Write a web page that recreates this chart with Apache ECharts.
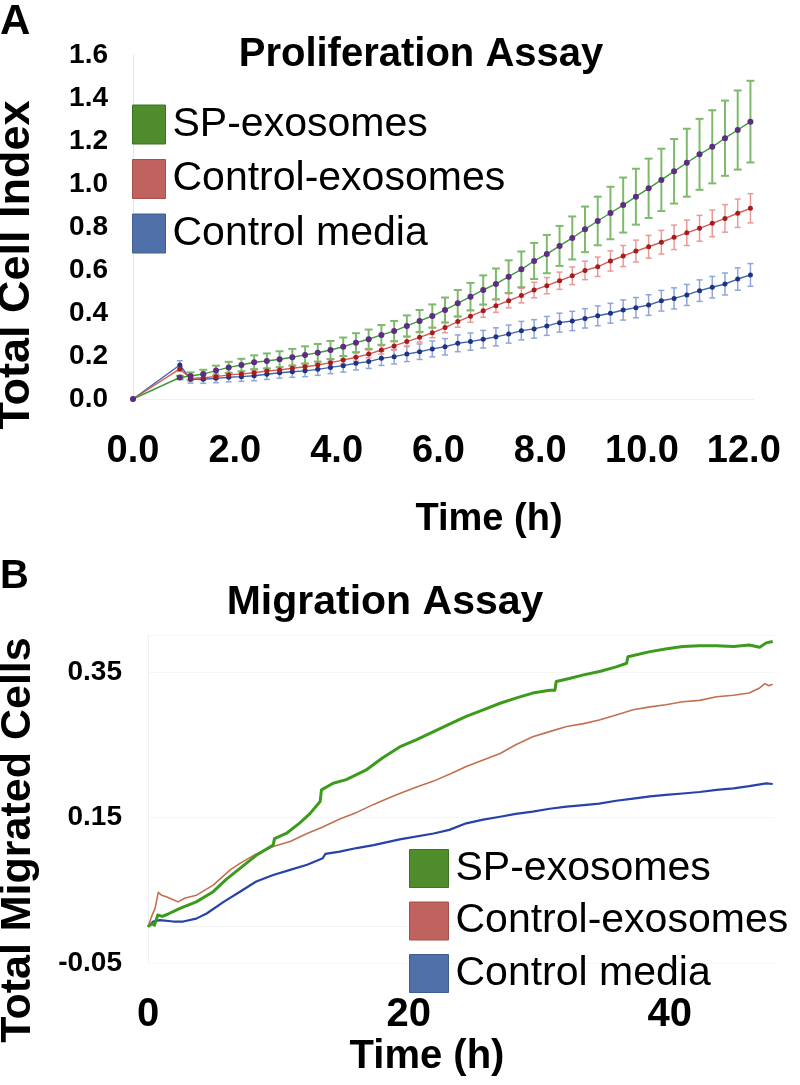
<!DOCTYPE html>
<html>
<head>
<meta charset="utf-8">
<script src="https://cdn.jsdelivr.net/npm/echarts@6/dist/echarts.min.js"></script>
<style>
html,body{margin:0;padding:0;background:#fff}
#c{width:800px;height:1085px}
</style>
</head>
<body>
<div id="c"></div>
<script>
// ---------- Panel A: Proliferation assay (Total Cell Index) ----------
const seriesNames = ['SP-exosomes', 'Control-exosomes', 'Control media'];
const profTimes = [0, 0.92, 1.13, 1.38, 1.63, 1.88, 2.13, 2.38, 2.63, 2.88, 3.13, 3.38, 3.63, 3.88, 4.13, 4.38, 4.63, 4.88, 5.13, 5.38, 5.63, 5.88, 6.13, 6.38, 6.63, 6.88, 7.13, 7.38, 7.63, 7.88, 8.13, 8.38, 8.63, 8.88, 9.13, 9.38, 9.63, 9.88, 10.13, 10.38, 10.63, 10.88, 11.13, 11.38, 11.63, 11.88, 12.13];
const profSP = [0, 0.100, 0.107, 0.116, 0.132, 0.147, 0.158, 0.171, 0.177, 0.185, 0.194, 0.205, 0.215, 0.228, 0.243, 0.262, 0.278, 0.298, 0.316, 0.340, 0.363, 0.386, 0.414, 0.445, 0.476, 0.507, 0.535, 0.569, 0.603, 0.642, 0.674, 0.712, 0.749, 0.789, 0.828, 0.865, 0.902, 0.941, 0.980, 1.019, 1.059, 1.099, 1.138, 1.173, 1.213, 1.251, 1.290];
const profSPErr = [0, 0.008, 0.017, 0.020, 0.023, 0.026, 0.029, 0.032, 0.035, 0.037, 0.039, 0.040, 0.041, 0.042, 0.043, 0.044, 0.045, 0.046, 0.047, 0.049, 0.051, 0.054, 0.058, 0.062, 0.064, 0.068, 0.072, 0.076, 0.083, 0.084, 0.089, 0.093, 0.100, 0.106, 0.113, 0.122, 0.128, 0.130, 0.138, 0.145, 0.150, 0.158, 0.165, 0.170, 0.175, 0.184, 0.190];
const profCE = [0, 0.140, 0.096, 0.099, 0.104, 0.112, 0.116, 0.122, 0.130, 0.135, 0.143, 0.150, 0.158, 0.169, 0.181, 0.194, 0.209, 0.228, 0.247, 0.267, 0.287, 0.308, 0.332, 0.360, 0.385, 0.410, 0.434, 0.457, 0.481, 0.507, 0.527, 0.550, 0.573, 0.598, 0.615, 0.642, 0.665, 0.688, 0.708, 0.729, 0.752, 0.773, 0.794, 0.817, 0.840, 0.864, 0.887];
const profCEErr = [0, 0.012, 0.012, 0.012, 0.012, 0.013, 0.013, 0.013, 0.014, 0.014, 0.015, 0.015, 0.016, 0.016, 0.017, 0.018, 0.018, 0.019, 0.020, 0.021, 0.022, 0.023, 0.024, 0.026, 0.028, 0.030, 0.031, 0.033, 0.034, 0.036, 0.038, 0.040, 0.041, 0.043, 0.045, 0.047, 0.049, 0.051, 0.053, 0.055, 0.057, 0.059, 0.060, 0.062, 0.064, 0.066, 0.068];
const profCM = [0, 0.158, 0.092, 0.092, 0.096, 0.101, 0.104, 0.108, 0.115, 0.122, 0.127, 0.131, 0.138, 0.147, 0.155, 0.166, 0.174, 0.189, 0.197, 0.209, 0.220, 0.233, 0.243, 0.259, 0.267, 0.278, 0.289, 0.302, 0.318, 0.326, 0.340, 0.355, 0.363, 0.375, 0.387, 0.399, 0.414, 0.425, 0.437, 0.457, 0.468, 0.484, 0.504, 0.520, 0.535, 0.558, 0.577];
const profCMErr = [0, 0.020, 0.018, 0.019, 0.020, 0.021, 0.022, 0.023, 0.024, 0.025, 0.026, 0.027, 0.028, 0.029, 0.030, 0.031, 0.032, 0.033, 0.034, 0.035, 0.036, 0.037, 0.038, 0.039, 0.040, 0.041, 0.042, 0.042, 0.043, 0.043, 0.044, 0.044, 0.045, 0.045, 0.046, 0.046, 0.047, 0.047, 0.048, 0.048, 0.049, 0.049, 0.050, 0.050, 0.051, 0.052, 0.053];
const profXTicks = [0, 2, 4, 6, 8, 10, 12];
const profYTicks = [0, 0.2, 0.4, 0.6, 0.8, 1.0, 1.2, 1.4, 1.6];

// ---------- Panel B: Migration assay (Total Migrated Cells) ----------
const migTimeSP = [0, 0.3, 0.5, 0.75, 1.1, 1.5, 2.45, 3.7, 5.0, 6.0, 7.05, 8.3, 9.6, 9.7, 10.6, 11.6, 12.4, 13.2, 13.3, 14.2, 15.2, 16.7, 18.0, 19.3, 20.6, 21.9, 23.2, 24.4, 25.7, 27.0, 28.2, 29.5, 30.8, 31.2, 31.3, 32.3, 33.4, 34.7, 35.9, 36.7, 36.8, 38.5, 39.8, 41.0, 42.3, 43.6, 44.9, 46.1, 46.9, 47.4, 47.9];
const migSP = [0, 0.004, 0.002, 0.016, 0.014, 0.017, 0.025, 0.034, 0.048, 0.065, 0.080, 0.098, 0.112, 0.121, 0.128, 0.142, 0.155, 0.172, 0.188, 0.197, 0.202, 0.215, 0.232, 0.247, 0.257, 0.268, 0.279, 0.289, 0.298, 0.307, 0.314, 0.321, 0.325, 0.325, 0.337, 0.341, 0.346, 0.351, 0.357, 0.362, 0.371, 0.378, 0.382, 0.385, 0.386, 0.386, 0.385, 0.387, 0.384, 0.390, 0.392];
const migTimeCE = [0, 0.28, 0.54, 0.79, 1.05, 1.4, 1.94, 2.3, 2.8, 3.7, 5.0, 6.3, 7.05, 8.3, 9.6, 10.9, 12.2, 13.4, 14.7, 16.0, 17.3, 18.5, 19.3, 20.6, 21.9, 23.2, 24.4, 25.7, 27.0, 28.2, 29.5, 30.8, 32.1, 33.4, 34.6, 35.9, 37.2, 38.5, 39.7, 41.0, 42.3, 43.6, 44.9, 46.1, 46.9, 47.3, 47.6, 47.9];
const migCE = [0, 0.014, 0.025, 0.047, 0.043, 0.041, 0.037, 0.034, 0.039, 0.043, 0.057, 0.078, 0.087, 0.100, 0.110, 0.117, 0.128, 0.137, 0.148, 0.157, 0.168, 0.177, 0.183, 0.192, 0.200, 0.210, 0.220, 0.229, 0.238, 0.250, 0.261, 0.268, 0.275, 0.279, 0.284, 0.291, 0.298, 0.302, 0.305, 0.309, 0.311, 0.316, 0.318, 0.321, 0.328, 0.334, 0.331, 0.333];
const migTimeCM = [0, 0.4, 0.92, 1.94, 2.7, 3.7, 4.5, 5.8, 7.05, 8.3, 9.6, 10.9, 12.2, 13.4, 13.6, 14.7, 16.0, 17.3, 19.3, 21.9, 23.1, 24.4, 25.7, 27.0, 28.2, 29.5, 30.8, 32.1, 33.4, 34.6, 35.9, 37.2, 38.5, 39.7, 41.0, 42.3, 43.6, 44.9, 46.1, 47.4, 47.9];
const migCM = [0, 0.007, 0.009, 0.007, 0.007, 0.011, 0.018, 0.034, 0.048, 0.062, 0.071, 0.078, 0.085, 0.094, 0.100, 0.103, 0.108, 0.112, 0.120, 0.128, 0.133, 0.142, 0.147, 0.151, 0.155, 0.158, 0.162, 0.165, 0.167, 0.169, 0.173, 0.176, 0.179, 0.181, 0.183, 0.185, 0.188, 0.190, 0.193, 0.197, 0.196];
const migXTicks = [0, 20, 40];
const migYTicks = [-0.05, 0.15, 0.35];

// ---------- styling ----------
const FONT = '"Liberation Sans", Arial, Helvetica, sans-serif';
const lineCol = ['#3f9a37', '#d65a55', '#3d63b0'];
const dotCol = ['#5c2d82', '#a51d1d', '#1f3284'];
const errCol = ['#7fba6c', '#e99a98', '#8ea6d8'];
const legendCol = ['#4e8c2c', '#c0625e', '#4f70a8'];
const legendBorder = ['#3f7322', '#a5504c', '#3f5d91'];
const migCol = ['#3c9a1c', '#c27150', '#2742a8'];

const pairs = (xs, ys) => xs.map((x, i) => [x, ys[i]]);

function errorBars(times, vals, errs, color, capW, lw) {
  return {
    type: 'custom',
    xAxisIndex: 0, yAxisIndex: 0,
    silent: true,
    z: 1,
    encode: { x: 0, y: [1, 2] },
    data: times.map((t, i) => [t, vals[i] - errs[i], vals[i] + errs[i]]),
    renderItem: function (params, api) {
      const t = api.value(0), lo = api.value(1), hi = api.value(2);
      if (hi - lo <= 0) return null;
      const p1 = api.coord([t, lo]);
      const p2 = api.coord([t, hi]);
      const w = capW / 2;
      const style = { stroke: color, lineWidth: lw, fill: null };
      return {
        type: 'group',
        children: [
          { type: 'line', shape: { x1: p1[0], y1: p1[1], x2: p2[0], y2: p2[1] }, style: style },
          { type: 'line', shape: { x1: p1[0] - w, y1: p1[1], x2: p1[0] + w, y2: p1[1] }, style: style },
          { type: 'line', shape: { x1: p2[0] - w, y1: p2[1], x2: p2[0] + w, y2: p2[1] }, style: style }
        ]
      };
    }
  };
}

function profLine(i, vals, size) {
  return {
    type: 'line', name: seriesNames[i],
    xAxisIndex: 0, yAxisIndex: 0,
    data: pairs(profTimes, vals),
    symbol: 'circle', symbolSize: size, showSymbol: true,
    itemStyle: { color: dotCol[i] },
    lineStyle: { color: lineCol[i], width: 1.4 },
    z: 3, silent: true
  };
}

function migLine(i, xs, ys, w) {
  return {
    type: 'line', name: seriesNames[i],
    xAxisIndex: 1, yAxisIndex: 1,
    data: pairs(xs, ys),
    showSymbol: false, symbol: 'none',
    itemStyle: { color: migCol[i] },
    lineStyle: { color: migCol[i], width: w, join: 'round' },
    z: 3, silent: true
  };
}

function legendFor(left, top, w, h, gap) {
  return {
    orient: 'vertical', left: left, top: top, padding: 0,
    itemWidth: w, itemHeight: h, itemGap: gap, icon: 'rect',
    selectedMode: false,
    data: seriesNames.map((n, i) => ({
      name: n,
      itemStyle: { color: legendCol[i], borderColor: legendBorder[i], borderWidth: 1 }
    })),
    textStyle: { fontFamily: FONT, fontSize: 41, color: '#000', lineHeight: h, padding: [0, 0, 0, 2] }
  };
}

function txt(text, x, y, size, align, rot) {
  return {
    type: 'text', x: x, y: y, rotation: rot || 0, silent: true,
    style: {
      x: 0, y: 0, text: text, fill: '#000',
      font: 'bold ' + size + 'px ' + FONT,
      textAlign: align, align: align,
      textVerticalAlign: 'middle', verticalAlign: 'middle'
    }
  };
}

const chart = echarts.init(document.getElementById('c'), null, { renderer: 'canvas' });
chart.setOption({
  animation: false,
  backgroundColor: '#fff',
  grid: [
    { left: 133, right: 46, top: 55, bottom: 686 },
    { left: 148, right: 26, top: 635.6, bottom: 122 }
  ],
  xAxis: [
    {
      type: 'value', gridIndex: 0, min: 0, max: 12.2, interval: 2,
      axisLine: { show: true, lineStyle: { color: '#f0f0f0', width: 1 } },
      axisTick: { show: false }, splitLine: { show: false },
      axisLabel: {
        margin: 34, fontFamily: FONT, fontWeight: 'bold', fontSize: 38, color: '#000',
        showMaxLabel: true,
        formatter: v => profXTicks.some(t => Math.abs(t - v) < 1e-9) ? v.toFixed(1) : ''
      }
    },
    {
      type: 'value', gridIndex: 1, min: 0, max: 48, interval: 20,
      axisLine: { show: true, lineStyle: { color: '#f3f3f3', width: 1 } },
      axisTick: { show: false }, splitLine: { show: false },
      axisLabel: {
        margin: 32, fontFamily: FONT, fontWeight: 'bold', fontSize: 40, color: '#000',
        formatter: v => migXTicks.includes(v) ? String(v) : ''
      }
    }
  ],
  yAxis: [
    {
      type: 'value', gridIndex: 0, min: 0, max: 1.6, interval: 0.2,
      axisLine: { show: true, lineStyle: { color: '#e6e6e6', width: 1 } },
      axisTick: { show: false }, splitLine: { show: false },
      axisLabel: {
        margin: 25, fontFamily: FONT, fontWeight: 'bold', fontSize: 28, color: '#000',
        formatter: v => profYTicks.some(t => Math.abs(t - v) < 1e-9) ? v.toFixed(1) : ''
      }
    },
    {
      type: 'value', gridIndex: 1, min: -0.05, max: 0.40, interval: 0.2,
      axisLine: { show: true, lineStyle: { color: '#f0f0f0', width: 1 } },
      axisTick: { show: false },
      splitLine: { show: true, lineStyle: { color: '#f6f6f6', width: 1 } },
      axisLabel: {
        margin: 26, fontFamily: FONT, fontWeight: 'bold', fontSize: 28, color: '#000',
        formatter: v => migYTicks.some(t => Math.abs(t - v) < 1e-9) ? v.toFixed(2) : ''
      }
    }
  ],
  legend: [
    legendFor(132, 104, 33, 39, 13.5),
    legendFor(409, 848, 39, 38, 11.5)
  ],
  series: [
    errorBars(profTimes, profCM, profCMErr, errCol[2], 6, 1.5),
    errorBars(profTimes, profCE, profCEErr, errCol[1], 6, 1.5),
    errorBars(profTimes, profSP, profSPErr, errCol[0], 8, 2),
    profLine(2, profCM, 5),
    profLine(1, profCE, 5),
    profLine(0, profSP, 6),
    migLine(2, migTimeCM, migCM, 2.2),
    migLine(1, migTimeCE, migCE, 1.6),
    migLine(0, migTimeSP, migSP, 3)
  ],
  graphic: {
    elements: [
      txt('A', 0, 22, 42, 'left'),
      txt('B', 0, 577, 40, 'left'),
      txt('Proliferation Assay', 421, 55, 40, 'center'),
      txt('Migration Assay', 385, 603, 41, 'center'),
      txt('Time (h)', 489, 520, 38, 'center'),
      txt('Time (h)', 427, 1057, 40, 'center'),
      txt('Total Cell Index', 17, 265, 45, 'center', Math.PI / 2),
      txt('Total Migrated Cells', 18, 840, 43, 'center', Math.PI / 2)
    ]
  }
});
</script>
</body>
</html>
